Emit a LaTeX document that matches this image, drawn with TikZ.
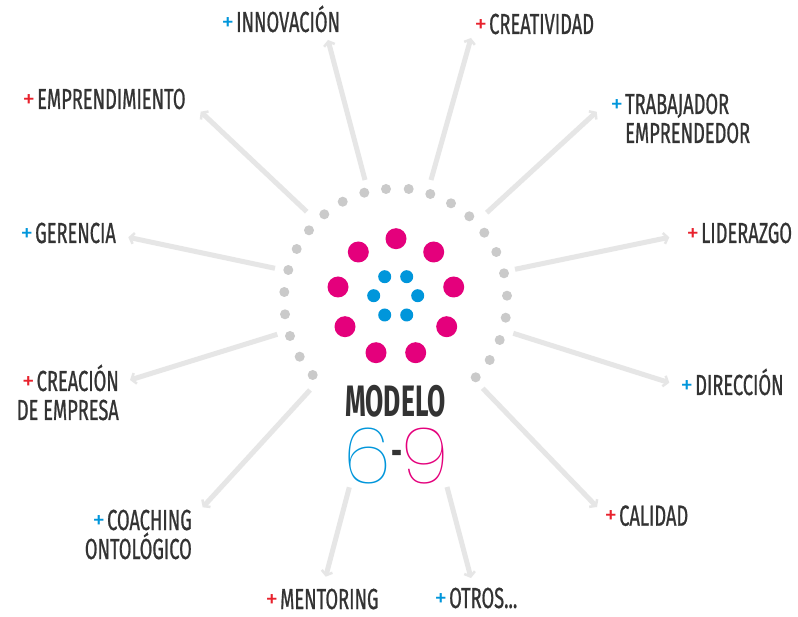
\documentclass[tikz,border=0pt]{standalone}
\usepackage{fontspec}
\setmainfont{Fira Sans}
\newfontfamily\labfont{Fira Sans}[FakeStretch=0.63,FakeBold=0.7]
\newfontfamily\modfont{Fira Sans}[FakeStretch=0.6]
\newfontfamily\plfont{Fira Sans}
\newfontfamily\thinfont{Poppins}[UprightFont=* Thin]
\usetikzlibrary{arrows.meta}
\definecolor{txt}{HTML}{333333}
\definecolor{blu}{HTML}{0096DB}
\definecolor{pnk}{HTML}{E4007C}
\definecolor{rd}{HTML}{E8222D}
\definecolor{gdot}{HTML}{CACACA}
\definecolor{arr}{HTML}{E6E6E6}
\newcommand\pls[1]{\llap{\raisebox{1.8pt}{\plfont\fontsize{25}{25}\selectfont\textcolor{#1}{+}}\hspace{2pt}}}
\begin{document}
\begin{tikzpicture}[x=1pt,y=-1pt,
  lab/.style={inner sep=0pt, font=\labfont\fontsize{29}{29}\selectfont, text=txt},
  conn/.style={draw=arr, line width=5pt, -{Straight Barb[length=4pt,width=11pt,line width=2.5pt]}},
  gd/.style={fill=gdot, circle, inner sep=0pt, minimum size=10pt},
  pd/.style={fill=pnk, circle, inner sep=0pt, minimum size=21pt},
  bd/.style={fill=blu, circle, inner sep=0pt, minimum size=13pt}]
\useasboundingbox[fill=white] (0,0) rectangle (798,617);

% gray ring
\foreach \x/\y [count=\i] in {364.3/192.7, 386/189, 408.7/189, 430.3/194,
  451/203.3, 469.3/216.3, 484.3/232.7, 496.3/252, 504/273.3, 507/295.7, 505.7/317.7, 499.7/340, 489.7/360, 475.7/377.3,
  342.7/201.7, 324.3/214.3, 309/230.3, 296.7/249, 288.3/270, 284.3/292, 285/314.3, 290/336, 299.7/356.7, 312.7/375}
  \node[gd] (g\i) at (\x,\y) {};
% pink ring
\foreach \x/\y [count=\i] in {396/238.7, 358.3/252, 433.7/252, 338/287, 453.7/287, 345/326.7, 446.7/326.7, 376/352.7, 415.7/352.7}
  \node[pd] (p\i) at (\x,\y) {};
% blue ring
\foreach \x/\y [count=\i] in {384.7/276.7, 406.7/276.7, 373.7/295.7, 417.7/295.7, 384.7/315, 406.7/315}
  \node[bd] (b\i) at (\x,\y) {};

% center text
\node[inner sep=0pt, anchor=base, text=txt, font=\modfont\bfseries\fontsize{44}{44}\selectfont] (modelo) at (395.5,416.7) {MODELO};
\node[inner sep=0pt, anchor=base] (num) at (396.5,483) {\thinfont\fontsize{78}{78}\selectfont\textcolor{blu}{6}\raisebox{18pt}{\textcolor{txt}{\labfont\bfseries\fontsize{40}{40}\selectfont -}}\textcolor{pnk}{9}};

% labels (multi-line nodes: base = last line)
\node[lab, anchor=base west] (innov) at (236,32) {\pls{blu}INNOVACIÓN};
\node[lab, anchor=base west] (empr) at (37,109) {\pls{rd}EMPRENDIMIENTO};
\node[lab, anchor=base west] (creat) at (489,34) {\pls{rd}CREATIVIDAD};
\node[lab, anchor=base west, align=left] (trab) at (625,143) {\pls{blu}TRABAJADOR\\EMPRENDEDOR};
\node[lab, anchor=base west] (lid) at (701,243) {\pls{rd}LIDERAZGO};
\node[lab, anchor=base west] (ger) at (35,243) {\pls{blu}GERENCIA};
\node[lab, anchor=base east, align=right] (creac) at (119,420) {\pls{rd}CREACIÓN\\DE EMPRESA};
\node[lab, anchor=base west] (dir) at (695,395) {\pls{blu}DIRECCIÓN};
\node[lab, anchor=base east, align=right] (coach) at (192,559) {\pls{blu}COACHING\\ONTOLÓGICO};
\node[lab, anchor=base west] (cal) at (619,525.7) {\pls{rd}CALIDAD};
\node[lab, anchor=base west] (ment) at (280,609) {\pls{rd}MENTORING};
\node[lab, anchor=base west] (otros) at (449,608) {\pls{blu}OTROS...};

% connector end points
\coordinate (empr-s) at (306.7,211.7);  \coordinate (empr-t) at (200.7,111.7);
\coordinate (innov-s) at (365,180);     \coordinate (innov-t) at (328,40);
\coordinate (creat-s) at (431,180);     \coordinate (creat-t) at (471,38);
\coordinate (trab-s) at (486.7,212.7);  \coordinate (trab-t) at (596.7,111.7);
\coordinate (lid-s) at (515,269.3);     \coordinate (lid-t) at (669.3,237.3);
\coordinate (ger-s) at (275,268.3);     \coordinate (ger-t) at (128.3,237.3);
\coordinate (creac-s) at (277.3,334.3); \coordinate (creac-t) at (130,380);
\coordinate (dir-s) at (513.3,333.3);   \coordinate (dir-t) at (669.3,382.7);
\coordinate (coach-s) at (310,390);     \coordinate (coach-t) at (202.7,507.3);
\coordinate (cal-s) at (482.7,388.3);   \coordinate (cal-t) at (597,507);
\coordinate (otros-s) at (447,487);     \coordinate (otros-t) at (471,578);
\coordinate (ment-s) at (349.3,487.3);  \coordinate (ment-t) at (325.7,576.7);

\foreach \n in {empr,innov,creat,trab,lid,ger,creac,dir,coach,cal,otros,ment}
  \draw[conn] (\n-s) -- (\n-t);
\end{tikzpicture}
\end{document}
